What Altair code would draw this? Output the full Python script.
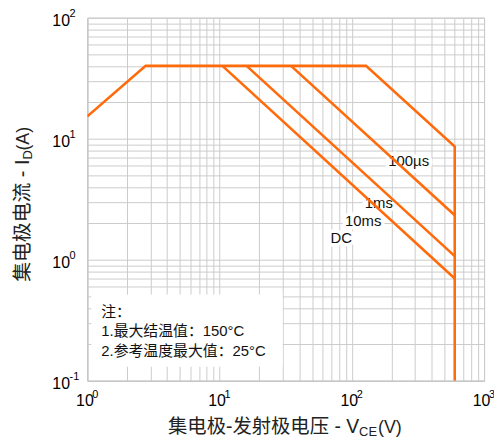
import altair as alt
import pandas as pd

# ---- data (V in volts, I in amperes) ----
v_100us = [1.0, 2.76, 128.0, 600.0, 600.0]
i_100us = [15.3, 40.0, 40.0, 8.6, 0.1]
v_1ms = [34.7, 600.0]
i_1ms = [40.0, 2.33]
v_10ms = [16.0, 600.0]
i_10ms = [40.0, 1.07]
v_dc = [10.5, 600.0]
i_dc = [40.0, 0.70]

label_text = ["100µs", "1ms", "10ms", "DC"]
label_v = [269.0, 160.0, 122.0, 83.0]
label_i = [6.55, 2.94, 2.10, 1.50]

x_decades = [1, 10, 100, 1000]
x_exponents = ["0", "1", "2", "3"]
y_decades = [0.1, 1, 10, 100]
y_exponents = ["-1", "0", "1", "2"]

x_grid = [1, 2, 3, 4, 5, 6, 7, 8, 9, 10, 20, 30, 40, 50, 60, 70, 80, 90,
          100, 200, 300, 400, 500, 600, 700, 800, 900, 1000]
y_grid = [0.1, 0.2, 0.3, 0.4, 0.5, 0.6, 0.7, 0.8, 0.9, 1, 2, 3, 4, 5, 6, 7, 8, 9,
          10, 20, 30, 40, 50, 60, 70, 80, 90, 100]

note_lines = ["注：", "1.最大结温值：150°C", "2.参考温度最大值：25°C"]
x_title = ["集电极-发射极电压 - V", "CE", "(V)"]
y_title = ["集电极电流 - I", "D", "(A)"]

FONT = "Liberation Sans, Noto Sans CJK SC"
ORANGE = "#FF6A0A"

# ---- tables ----
rows = []
for name, vs, is_ in [("100us", v_100us, i_100us), ("1ms", v_1ms, i_1ms),
                      ("10ms", v_10ms, i_10ms), ("DC", v_dc, i_dc)]:
    for k, (v, i) in enumerate(zip(vs, is_)):
        rows.append({"series": name, "order": k, "V": v, "I": i})
lines_df = pd.DataFrame(rows)
labels_df = pd.DataFrame({"text": label_text, "V": label_v, "I": label_i})
xexp_df = pd.DataFrame({"V": x_decades, "e": x_exponents})
yexp_df = pd.DataFrame({"I": y_decades, "e": y_exponents})

xscale = alt.Scale(type="log", domain=[1, 1000], nice=False)
yscale = alt.Scale(type="log", domain=[0.1, 100], nice=False)

xaxis = alt.Axis(values=x_grid, title=None, grid=True, ticks=False,
                 labelExpr="indexof([1,10,100,1000], datum.value) >= 0 ? '10' : ''",
                 labelOverlap=False, labelFlush=False, labelAlign="center",
                 labelBaseline="top", labelPadding=12, labelOffset=-3)
yaxis = alt.Axis(values=y_grid, title=None, grid=True, ticks=False,
                 labelExpr="indexof([0.1,1,10,100], datum.value) >= 0 ? '10' : ''",
                 labelOverlap=False, labelFlush=False, labelAlign="right",
                 labelBaseline="middle", labelPadding=18, labelOffset=3)

X = alt.X("V:Q", scale=xscale, axis=xaxis)
Y = alt.Y("I:Q", scale=yscale, axis=yaxis)

lines = alt.Chart(lines_df).mark_line(color=ORANGE, strokeWidth=2.6, clip=True).encode(
    x=X, y=Y, detail="series:N", order="order:Q",
)

halo = alt.Chart(labels_df).mark_text(font=FONT, fontSize=15, stroke="white",
                                      strokeWidth=7, color="white").encode(
    x=X, y=Y, text="text:N")
labels = alt.Chart(labels_df).mark_text(font=FONT, fontSize=15, color="#111").encode(
    x=X, y=Y, text="text:N")

H = 366  # plot height
xexp = alt.Chart(xexp_df).mark_text(font=FONT, fontSize=11, align="left",
                                    baseline="middle", color="#000", dx=5).encode(
    x=X, y=alt.value(H + 14), text="e:N")
yexp = alt.Chart(yexp_df).mark_text(font=FONT, fontSize=11, align="left",
                                    baseline="middle", color="#000", dy=-4).encode(
    y=Y, x=alt.value(-18), text="e:N")

one = pd.DataFrame({"a": [0]})
note_box = alt.Chart(one).mark_rect(fill="white").encode(
    x=alt.value(4), x2=alt.value(197), y=alt.value(279), y2=alt.value(352))


def piece(txt, x, y, size, align, angle=0, baseline="alphabetic", color="#222"):
    return alt.Chart(pd.DataFrame({"t": [txt]})).mark_text(
        font=FONT, fontSize=size, align=align, baseline=baseline,
        angle=angle, color=color).encode(x=alt.value(x), y=alt.value(y), text="t:N")


note = (piece(note_lines[0], 14, 297, 15, "left", baseline="middle", color="#111")
        + piece(note_lines[1], 14, 316, 15, "left", baseline="middle", color="#111")
        + piece(note_lines[2], 14, 336, 15, "left", baseline="middle", color="#111"))

xt = (piece(x_title[0], 274, 419, 19.5, "right")
      + piece(x_title[1], 274, 422, 13, "left")
      + piece(x_title[2], 293, 419, 18, "left"))
yt = (piece(y_title[0], -59, 143, 20, "right", 270)
      + piece(y_title[1], -56, 143, 13, "left", 270)
      + piece(y_title[2], -59, 134, 18, "left", 270))

chart = alt.layer(
    lines.mark_line(opacity=0), note_box, halo, labels, lines, note, xexp, yexp, xt, yt
).properties(
    width=400, height=H,
    autosize=alt.AutoSizeParams(type="none"),
    padding={"left": 80, "top": 8, "right": 10, "bottom": 56},
).configure_view(stroke="#c4c4c4", strokeWidth=1).configure_axis(
    gridColor="#cbcbcb", gridWidth=1, domainColor="#c4c4c4",
    labelFont=FONT, labelFontSize=16, labelColor="#000",
)

chart.save("out.html", embed_options={"renderer": "svg", "actions": False})
